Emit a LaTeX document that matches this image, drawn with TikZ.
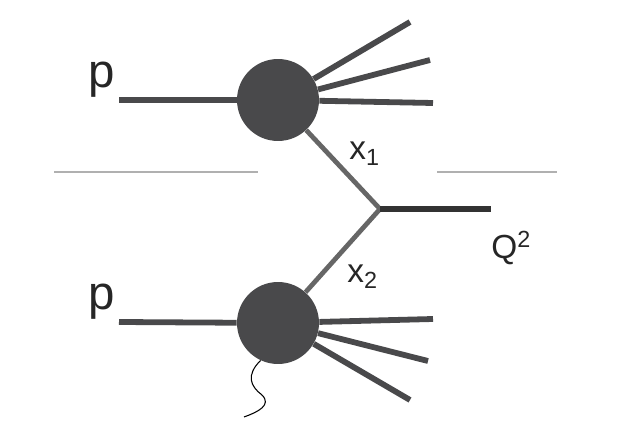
\documentclass[tikz,border=0pt]{standalone}
\usepackage{fontspec}
\setmainfont{Liberation Sans}
\definecolor{blobgray}{RGB}{73,73,75}
\definecolor{propgray}{RGB}{102,102,102}
\definecolor{cutgray}{RGB}{176,176,176}
\definecolor{qgray}{RGB}{50,50,50}
\tikzset{
    blob/.style={circle, fill=blobgray, inner sep=0pt, minimum size=1.64cm},
    beam/.style={blobgray, line width=3.3pt},
    prop/.style={propgray, line width=2.7pt},
    cut/.style={cutgray, line width=0.9pt},
    lbl/.style={inner sep=0pt, text=black!85}
}

\begin{document}
\begin{tikzpicture}[x=0.02cm,y=-0.02cm]
    \useasboundingbox (0,0) rectangle (622,438);
    %\draw[very thin,color=gray] (0,0) grid[step=50] (622,438);
    \node [blob] (pa) at (278,100) {};
    \node [blob] (pb) at (278,323) {};
    \coordinate (v) at (380,209);
    \coordinate (q) at (491,209);
    \coordinate (ina) at (119,100);
    \coordinate (inb) at (119,322);
    \coordinate (ta1) at (410,22);
    \coordinate (ta2) at (430,60);
    \coordinate (ta3) at (433,103);
    \coordinate (tb1) at (433,319);
    \coordinate (tb2) at (428,361);
    \coordinate (tb3) at (410,400);
    \coordinate (cl1) at (54,172);
    \coordinate (cl2) at (258,172);
    \coordinate (cr1) at (437,172);
    \coordinate (cr2) at (557,172);
    \coordinate (w) at (244,417);

    \draw [cut] (cl1) -- (cl2);
    \draw [cut] (cr1) -- (cr2);
    \draw [beam] (ina) -- (pa);
    \draw [beam] (inb) -- (pb);
    \draw [beam] (pa) -- (ta1);
    \draw [beam] (pa) -- (ta2);
    \draw [beam] (pa) -- (ta3);
    \draw [beam] (pb) -- (tb1);
    \draw [beam] (pb) -- (tb2);
    \draw [beam] (pb) -- (tb3);
    \draw [prop, line join=miter] (pa) -- (v) -- (pb);
    \draw [qgray, line width=3.4pt] (v) -- (q);
    \draw [black, line width=0.6pt] (pb.-115) .. controls (246,375) and (250,386) .. (262,395)
        .. controls (272,405) and (258,412) .. (w);

    \node [lbl, anchor=base, font=\fontsize{27}{30}\selectfont] (pta) at (102,88) {p};
    \node [lbl, anchor=base, font=\fontsize{27}{30}\selectfont] (ptb) at (102,310) {p};
    \node [lbl, anchor=base west, font=\fontsize{19}{22}\selectfont] (xa) at (349,160) {x\textsubscript{1}};
    \node [lbl, anchor=base west, font=\fontsize{19}{22}\selectfont] (xb) at (347,283) {x\textsubscript{2}};
    \node [lbl, anchor=base west, font=\fontsize{19}{22}\selectfont] (qq) at (491,259) {Q\textsuperscript{2}};
\end{tikzpicture}
\end{document}
